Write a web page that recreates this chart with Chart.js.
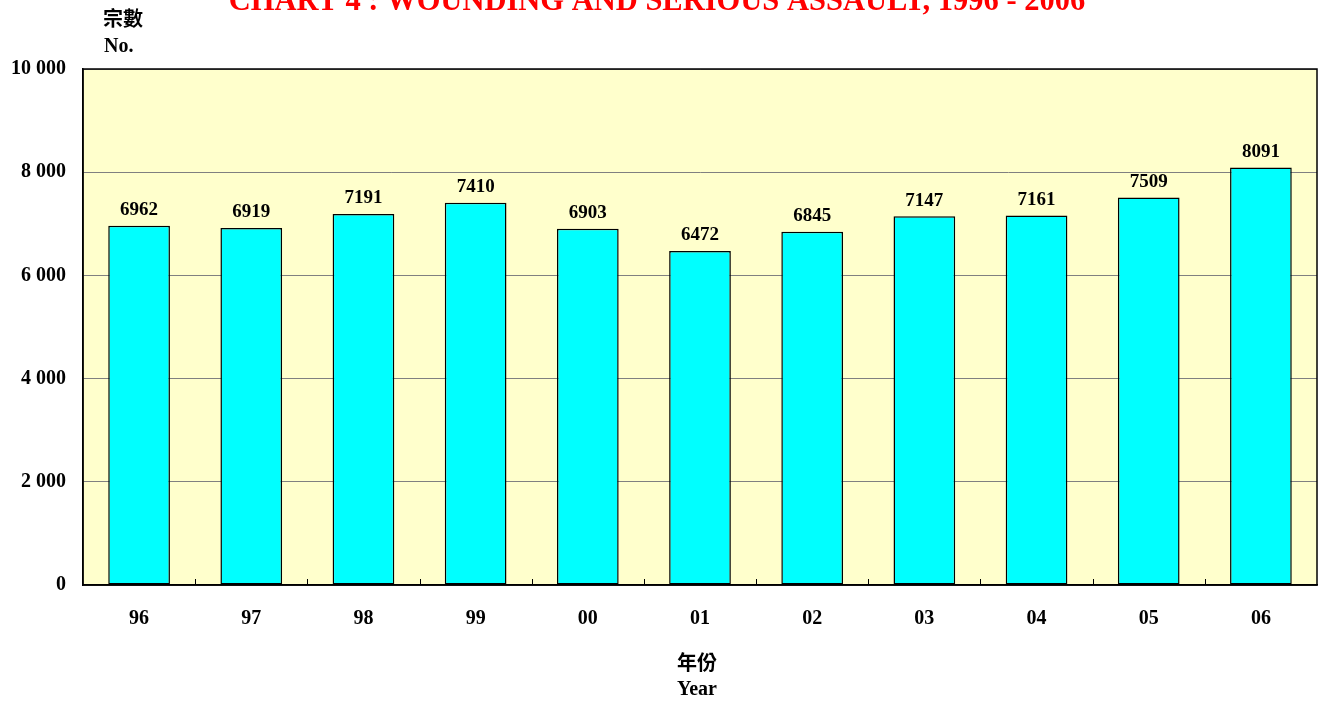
<!DOCTYPE html>
<html>
<head>
<meta charset="utf-8">
<script src="https://cdn.jsdelivr.net/npm/chart.js@4.4.0/dist/chart.umd.min.js"></script>
<style>
  html, body { margin: 0; padding: 0; background: #fff; }
  #wrap { position: relative; width: 1318px; height: 701px; }
</style>
</head>
<body>
<div id="wrap"><canvas id="chart" width="1318" height="701"></canvas></div>
<script>
const years = ['96', '97', '98', '99', '00', '01', '02', '03', '04', '05', '06'];
const cases = [6962, 6919, 7191, 7410, 6903, 6472, 6845, 7147, 7161, 7509, 8091];
const yTicks = [0, 2000, 4000, 6000, 8000, 10000];

const serif = '"Liberation Serif", "Times New Roman", serif';
const cjk = '"Noto Sans CJK TC", "Noto Sans CJK SC", sans-serif';

const fmt = v => String(v).replace(/\B(?=(\d{3})+(?!\d))/g, ' ');

// fond jaune + cadre autour de la zone du graphique
const plotFrame = {
  id: 'plotFrame',
  beforeDraw(chart) {
    const { ctx, chartArea: a } = chart;
    ctx.save();
    ctx.fillStyle = '#FFFFCC';
    ctx.fillRect(a.left, a.top, a.right - a.left, a.bottom - a.top);
    ctx.restore();
  },
  afterDatasetsDraw(chart) {
    const { ctx, chartArea: a } = chart;
    const x = chart.scales.x;
    ctx.save();
    ctx.strokeStyle = '#000';
    ctx.lineWidth = 1;
    // petits traits entre les catégories
    const step = x.getPixelForValue(1) - x.getPixelForValue(0);
    for (let i = 1; i < years.length; i++) {
      const px = Math.round(x.getPixelForValue(i) - step / 2) + 0.5;
      ctx.beginPath();
      ctx.moveTo(px, a.bottom);
      ctx.lineTo(px, a.bottom - 6);
      ctx.stroke();
    }
    ctx.lineWidth = 1.5;
    ctx.strokeRect(a.left, a.top, a.right - a.left, a.bottom - a.top);
    ctx.restore();
  }
};

// valeurs au-dessus des barres
const barLabels = {
  id: 'barLabels',
  afterDatasetsDraw(chart) {
    const { ctx } = chart;
    const meta = chart.getDatasetMeta(0);
    ctx.save();
    ctx.font = 'bold 19px ' + serif;
    ctx.fillStyle = '#000';
    ctx.textAlign = 'center';
    ctx.textBaseline = 'bottom';
    meta.data.forEach((bar, i) => {
      ctx.fillText(String(cases[i]), bar.x, bar.y - 6);
    });
    ctx.restore();
  }
};

// titres
const texts = {
  id: 'texts',
  afterDraw(chart) {
    const { ctx } = chart;
    ctx.save();
    ctx.textAlign = 'center';
    ctx.textBaseline = 'alphabetic';
    ctx.fillStyle = '#FF0000';
    ctx.font = 'bold 30.5px ' + serif;
    ctx.fillText('CHART 4 : WOUNDING AND SERIOUS ASSAULT, 1996 - 2006', 657, 10);

    ctx.fillStyle = '#000';
    ctx.textAlign = 'left';
    ctx.font = 'bold 20px ' + cjk;
    ctx.fillText('宗數', 103, 26);
    ctx.font = 'bold 20px ' + serif;
    ctx.fillText('No.', 104, 52);

    ctx.textAlign = 'center';
    ctx.font = 'bold 20px ' + cjk;
    ctx.fillText('年份', 697, 670);
    ctx.font = 'bold 20px ' + serif;
    ctx.fillText('Year', 697, 695);
    ctx.restore();
  }
};

new Chart(document.getElementById('chart'), {
  type: 'bar',
  data: {
    labels: years,
    datasets: [{
      data: cases,
      backgroundColor: '#00FFFF',
      borderColor: '#000',
      borderWidth: 1.5,
      borderSkipped: false,
      barPercentage: 0.55,
      categoryPercentage: 1
    }]
  },
  options: {
    responsive: false,
    animation: false,
    layout: { padding: { top: 69, right: 1, left: 0, bottom: 0 } },
    plugins: {
      legend: { display: false },
      tooltip: { enabled: false }
    },
    scales: {
      x: {
        grid: { display: false, drawTicks: false },
        border: { display: true, color: '#000', width: 1.5 },
        ticks: {
          padding: 22,
          color: '#000',
          font: { family: serif, size: 20, weight: 'bold' }
        },
        afterFit(scale) { scale.height = 116; }
      },
      y: {
        min: 0,
        max: 10000,
        afterBuildTicks(scale) { scale.ticks = yTicks.map(v => ({ value: v })); },
        grid: { color: '#808080', lineWidth: 1, drawTicks: false },
        border: { display: true, color: '#000', width: 1.5 },
        ticks: {
          padding: 17,
          color: '#000',
          font: { family: serif, size: 20, weight: 'bold' },
          callback: v => fmt(v)
        },
        afterFit(scale) { scale.width = 83; }
      }
    }
  },
  plugins: [plotFrame, barLabels, texts]
});
</script>
</body>
</html>
